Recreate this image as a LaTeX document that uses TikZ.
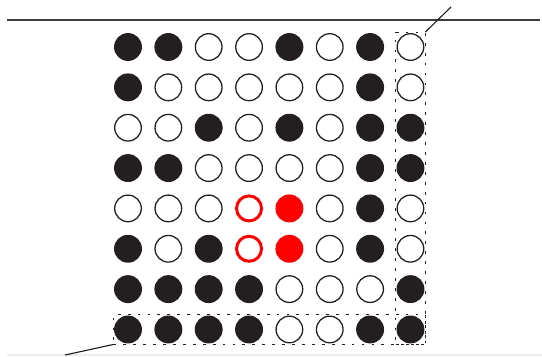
\documentclass[tikz,border=0pt]{standalone}
\usetikzlibrary{fit}

\definecolor{ink}{RGB}{35,31,32}
\definecolor{rulegray}{RGB}{60,60,60}

\tikzset{
  dotopen/.style={circle, draw=ink, line width=0.9pt, fill=white, minimum size=0.66cm, inner sep=0pt},
  dotfull/.style={circle, draw=ink, line width=0.9pt, fill=ink, minimum size=0.66cm, inner sep=0pt},
  ringred/.style={circle, draw=red, line width=2.1pt, fill=white, minimum size=0.62cm, inner sep=0pt},
  dotred/.style={circle, draw=red, line width=0.9pt, fill=red, minimum size=0.66cm, inner sep=0pt},
  cell/.code={\ifcase#1\tikzset{dotopen}\or\tikzset{dotfull}\or\tikzset{ringred}\or\tikzset{dotred}\fi},
  dashbox/.style={draw=ink, line width=0.7pt, dash pattern=on 2pt off 5pt, inner sep=0.45pt},
  leader/.style={draw=ink, line width=0.8pt}
}

\begin{document}
\begin{tikzpicture}[x=1cm, y=-1cm]

	\useasboundingbox (0,0) rectangle (13.432,8.823);

	% Grid position
	\def\leftofs{3.172}
	\def\topofs{1.165}

	% Top rule
	\coordinate (rule-l) at (0.173,0.496);
	\coordinate (rule-r) at (13.38,0.496);
	\draw[rulegray, line width=1pt] (rule-l) -- (rule-r);

	% Faint base line
	\coordinate (base-l) at (0.173,8.8);
	\coordinate (base-r) at (13.432,8.8);
	\draw[black!7, line width=1pt] (base-l) -- (base-r);

	% Cells: 0 open, 1 black, 2 red ring, 3 red dot
	\foreach \row [count=\j] in {
		{1,1,0,0,1,0,1,0},
		{1,0,0,0,0,0,1,0},
		{0,0,1,0,1,0,1,1},
		{1,1,0,0,0,0,1,1},
		{0,0,0,2,3,0,1,0},
		{1,0,1,2,3,0,1,0},
		{1,1,1,1,0,0,0,1},
		{1,1,1,1,0,0,1,1}} {
		\foreach \v [count=\i] in \row {
			\node[cell=\v] (c-\i-\j) at ({\leftofs + \i - 1}, {\topofs + \j - 1}) {};
		}
	}

	% Dashed boxes
	\node[dashbox, fit=(c-8-1)(c-8-8)] (colbox) {};
	\node[dashbox, fit=(c-1-8)(c-8-8)] (rowbox) {};

	% Leaders
	\coordinate (tip-tr) at (11.177,0.173);
	\coordinate (tip-bl) at (1.611,8.798);
	\draw[leader] (colbox.north east) -- (tip-tr);
	\draw[leader] (rowbox.south west) -- (tip-bl);

\end{tikzpicture}
\end{document}
